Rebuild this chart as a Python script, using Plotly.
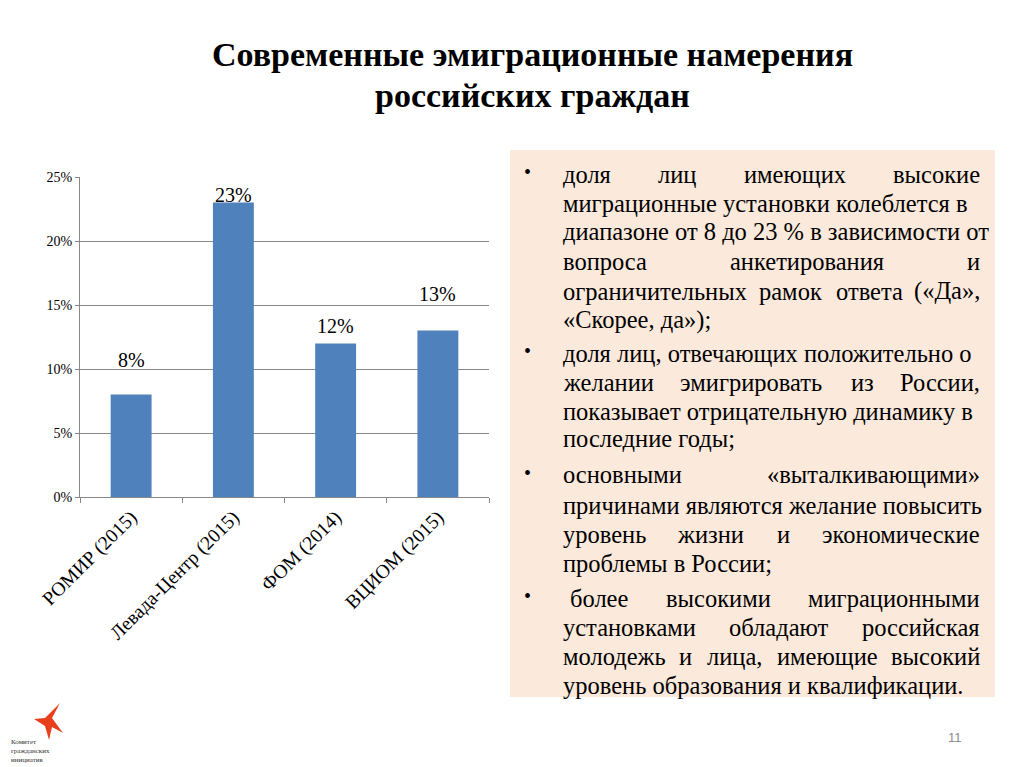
import plotly.graph_objects as go

# ---- data ----
categories = ["РОМИР (2015)", "Левада-Центр (2015)", "ФОМ (2014)", "ВЦИОМ (2015)"]
values = [8, 23, 12, 13]
value_labels = ["8%", "23%", "12%", "13%"]
y_ticks = [0, 5, 10, 15, 20, 25]
y_tick_labels = ["0%", "5%", "10%", "15%", "20%", "25%"]

title_lines = ["Современные эмиграционные намерения", "российских граждан"]

paragraphs = [
    ["доля лиц имеющих высокие",
     "миграционные установки колеблется в",
     "диапазоне от 8 до 23 % в зависимости от",
     "вопроса анкетирования и",
     "ограничительных рамок ответа («Да»,",
     "«Скорее, да»);"],
    ["доля лиц, отвечающих положительно о",
     "желании эмигрировать из России,",
     "показывает отрицательную динамику в",
     "последние годы;"],
    ["основными «выталкивающими»",
     "причинами являются желание повысить",
     "уровень жизни и экономические",
     "проблемы в России;"],
    ["более высокими миграционными",
     "установками обладают российская",
     "молодежь и лица, имеющие высокий",
     "уровень образования и квалификации."],
]
page_number = "11"
logo_text = "Комитет<br>гражданских<br>инициатив"

# ---- styles / positions ----
W, H = 1024, 767
OFF = 8  # page body margin in the browser
label_shifts = [35, 8, 17, 37]  # px offsets of value labels above bars
serif = "Liberation Serif"
bar_color = "#4F81BD"
grid_color = "#888888"
box_color = "#FBE9DB"


def px(x):
    return (x - OFF) / W


def py(y):
    return 1 - (y - OFF) / H


fig = go.Figure()
fig.add_trace(go.Bar(x=categories, y=values, marker=dict(color=bar_color, line=dict(width=0)),
                     width=0.4, hoverinfo="skip"))

annotations = []
for c, v, t, s in zip(categories, values, value_labels, label_shifts):
    annotations.append(dict(x=c, y=v, xref="x", yref="y", text=t, showarrow=False,
                            yanchor="middle", yshift=s,
                            font=dict(family=serif, size=20, color="#000000")))

# title
for i, line in enumerate(title_lines):
    annotations.append(dict(x=px(532), y=py(55 + 40 * i), xref="paper", yref="paper",
                            text="<b>" + line + "</b>", showarrow=False,
                            xanchor="center", yanchor="middle",
                            font=dict(family=serif, size=34, color="#000000")))

# approximate advance widths (em) of a Times-metric serif, used for justification
CW = {
    "а": .444, "б": .5, "в": .472, "г": .41, "д": .5, "е": .444, "ж": .691, "з": .395,
    "и": .535, "й": .535, "к": .486, "л": .5, "м": .633, "н": .535, "о": .5, "п": .535,
    "р": .5, "с": .444, "т": .437, "у": .5, "ф": .648, "х": .5, "ц": .535, "ч": .503,
    "ш": .77, "щ": .77, "ъ": .535, "ы": .693, "ь": .472, "э": .438, "ю": .746, "я": .486,
    "Д": .667, "Р": .556, "С": .667, "«": .5, "»": .5, ",": .25, ".": .25, ";": .278,
    "(": .333, ")": .333, "%": .833,
}


def word_w(w, fs):
    return sum(CW.get(ch, 0.5) for ch in w) * fs


fs = 24.5
left, right = 561, 982
line_y = [[174, 203, 232, 262, 291, 320],
          [353, 382, 411, 438],
          [475, 505, 534, 563],
          [598, 627, 656, 685]]
first_indent = [0, 0, 0, 7]
txt_font = dict(family=serif, size=fs, color="#000000")

for pi, para in enumerate(paragraphs):
    # bullet
    annotations.append(dict(x=px(527), y=py(line_y[pi][0] - 2), xref="paper", yref="paper",
                            text="•", showarrow=False, xanchor="center", yanchor="middle",
                            font=dict(family=serif, size=20, color="#000000")))
    for li, line in enumerate(para):
        y = py(line_y[pi][li])
        l0 = left + (first_indent[pi] if li == 0 else 0)
        words = line.split()
        last = li == len(para) - 1
        widths = [word_w(w, fs) for w in words]
        gap = (right - l0 - sum(widths)) / max(len(words) - 1, 1)
        if last or len(words) == 1 or gap < 0.45 * fs:
            annotations.append(dict(x=px(l0), y=y, xref="paper", yref="paper", text=line,
                                    showarrow=False, xanchor="left", yanchor="middle",
                                    font=txt_font))
            continue
        xcur = l0
        for wi, (w, ww) in enumerate(zip(words, widths)):
            if wi == 0:
                a = dict(x=px(l0), xanchor="left")
            elif wi == len(words) - 1:
                a = dict(x=px(right), xanchor="right")
            else:
                a = dict(x=px(xcur + ww / 2), xanchor="center")
            a.update(y=y, xref="paper", yref="paper", text=w, showarrow=False,
                     yanchor="middle", font=txt_font)
            annotations.append(a)
            xcur += ww + gap

# page number
annotations.append(dict(x=px(955), y=py(737), xref="paper", yref="paper", text=page_number,
                        showarrow=False, xanchor="center", yanchor="middle",
                        font=dict(family="Liberation Sans", size=13, color="#8c8c8c")))
# logo text
annotations.append(dict(x=px(9), y=py(751), xref="paper", yref="paper", text=logo_text,
                        showarrow=False, xanchor="left", yanchor="middle", align="left",
                        font=dict(family=serif, size=7, color="#333333")))

shapes = [
    dict(type="rect", xref="paper", yref="paper", x0=px(510), x1=px(995), y0=py(697), y1=py(150),
         fillcolor=box_color, line=dict(width=0), layer="below"),
    # logo bird
    dict(type="path", xref="paper", yref="paper", xsizemode="pixel", ysizemode="pixel",
         xanchor=0, yanchor=0,
         path="M 26 56 L 37 57 L 52 72 L 44 57 L 55 42 L 44 48 L 41 35 L 37 49 Z",
         fillcolor="#E8401C", line=dict(width=0)),
]

fig.update_layout(
    template="none",
    width=W, height=H, autosize=False,
    margin=dict(l=0, r=0, t=0, b=0, pad=0),
    paper_bgcolor="white", plot_bgcolor="white",
    showlegend=False,
    annotations=annotations,
    shapes=shapes,
    font=dict(family=serif, color="#000000"),
    xaxis=dict(domain=[px(80), px(489)], automargin=False, showline=True, linecolor=grid_color,
               linewidth=1, ticks="outside", tickson="boundaries", ticklen=5, tickcolor=grid_color,
               tickangle=-45, showgrid=False, zeroline=False,
               tickfont=dict(family=serif, size=19.5, color="#000000")),
    yaxis=dict(domain=[py(497), py(177)], automargin=False, range=[0, 25],
               tickvals=y_ticks, ticktext=y_tick_labels, showline=True, linecolor=grid_color,
               linewidth=1, showgrid=True, gridcolor=grid_color, gridwidth=1, zeroline=False,
               ticks="outside", ticklen=4, tickcolor=grid_color,
               tickfont=dict(family=serif, size=14, color="#000000")),
)

fig.write_html("out.html")
